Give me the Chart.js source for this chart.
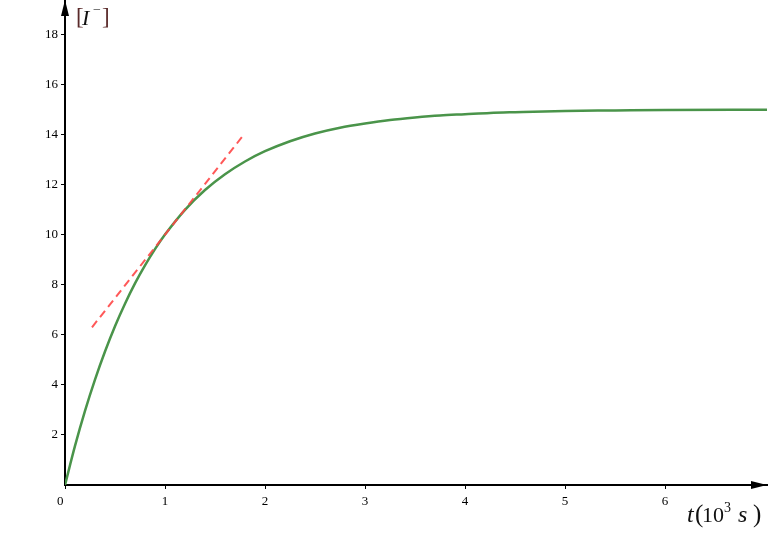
<!DOCTYPE html>
<html>
<head>
<meta charset="utf-8">
<script src="https://cdn.jsdelivr.net/npm/chart.js@4"></script>
<style>
  body { margin: 0; background: #fff; }
  canvas { display: block; }
</style>
</head>
<body>
<canvas id="chart" width="768" height="539"></canvas>
<script>
// concentration curve (t in 10^3 s)
var tValues = [0, 0.1, 0.2, 0.3, 0.4, 0.5, 0.6, 0.7, 0.8, 0.9, 1.0, 1.2, 1.4, 1.6, 1.8, 2.0, 2.25, 2.5, 2.75, 3.0, 3.25, 3.5, 3.75, 4.0, 4.25, 4.5, 5.0, 5.5, 6.0, 7.02];
var iValues = [0, 1.56, 2.96, 4.21, 5.33, 6.34, 7.24, 8.05, 8.77, 9.42, 10.0, 10.99, 11.78, 12.41, 12.92, 13.33, 13.73, 14.04, 14.27, 14.44, 14.58, 14.68, 14.76, 14.81, 14.86, 14.89, 14.94, 14.96, 14.98, 14.99];

// dashed tangent at t = 1
var tangentT = [0.27, 1.79];
var tangentI = [6.3, 14.0];

var xTicks = [0, 1, 2, 3, 4, 5, 6];
var yTicks = [2, 4, 6, 8, 10, 12, 14, 16, 18];

function toPoints(xs, ys) {
  return xs.map(function (x, i) { return { x: x, y: ys[i] }; });
}

var serif = '"Liberation Serif", "DejaVu Serif", serif';

var axisDecor = {
  id: 'axisDecor',
  afterDraw: function (chart) {
    var ctx = chart.ctx;
    var a = chart.chartArea;
    ctx.save();
    ctx.fillStyle = '#000';
    // y arrow
    ctx.beginPath();
    ctx.moveTo(a.left, 0);
    ctx.lineTo(a.left - 4, 16);
    ctx.lineTo(a.left + 4, 16);
    ctx.closePath();
    ctx.fill();
    // x arrow
    ctx.beginPath();
    ctx.moveTo(767, a.bottom);
    ctx.lineTo(751, a.bottom - 4);
    ctx.lineTo(751, a.bottom + 4);
    ctx.closePath();
    ctx.fill();

    // y label [I-]
    ctx.textBaseline = 'alphabetic';
    ctx.textAlign = 'left';
    ctx.fillStyle = '#5a2a2a';
    ctx.font = '23px ' + serif;
    ctx.fillText('[', 76, 24);
    ctx.fillStyle = '#111';
    ctx.font = 'italic 22px ' + serif;
    ctx.fillText('I', 82, 25);
    ctx.fillStyle = '#444';
    ctx.font = '14px ' + serif;
    ctx.fillText('\u2212', 93, 14);
    ctx.fillStyle = '#5a2a2a';
    ctx.font = '23px ' + serif;
    ctx.fillText(']', 102, 24);

    // x label t(10^3 s)
    ctx.fillStyle = '#111';
    var base = 522;
    var parts = [
      ['t', 'italic 24px ', 687, base],
      ['(', '25px ', 695, base],
      ['10', '22px ', 702, base],
      ['3', '14px ', 724, base - 10],
      ['s', 'italic 24px ', 738, base],
      [')', '25px ', 753, base]
    ];
    parts.forEach(function (p) {
      ctx.font = p[1] + serif;
      ctx.fillText(p[0], p[2], p[3]);
    });
    ctx.restore();
  }
};

function noPad(s) {
  s.paddingTop = 0;
  s.paddingBottom = 0;
  s.paddingLeft = 0;
  s.paddingRight = 0;
}

var ctx = document.getElementById('chart').getContext('2d');
var chart = new Chart(ctx, {
  type: 'line',
  data: {
    datasets: [{
      data: toPoints(tangentT, tangentI),
      borderColor: 'rgba(255, 70, 70, 0.9)',
      borderWidth: 2,
      borderDash: [8, 5],
      pointRadius: 0,
      fill: false
    }, {
      data: toPoints(tValues, iValues),
      borderColor: '#4a944a',
      borderWidth: 2.5,
      pointRadius: 0,
      cubicInterpolationMode: 'monotone',
      fill: false
    }]
  },
  plugins: [axisDecor],
  options: {
    responsive: false,
    animation: false,
    layout: { padding: { top: 0, right: 1, left: 0, bottom: 0 } },
    scales: {
      x: {
        type: 'linear',
        min: 0,
        max: 7.02,
        afterFit: function (s) { s.height = 54; noPad(s); },
        afterBuildTicks: function (s) {
          s.ticks = xTicks.map(function (v) { return { value: v }; });
        },
        border: { color: '#000', width: 2 },
        grid: { drawOnChartArea: false, drawTicks: true, tickLength: 4, color: '#000', tickColor: '#000' },
        ticks: {
          color: '#000',
          padding: 5,
          maxRotation: 0,
          autoSkip: false,
          font: { family: serif, size: 13 },
          callback: function (v) { return v === 0 ? '0   ' : String(v); }
        }
      },
      y: {
        min: 0,
        max: 19.37,
        afterFit: function (s) { s.width = 65; noPad(s); },
        afterBuildTicks: function (s) {
          s.ticks = yTicks.map(function (v) { return { value: v }; });
        },
        border: { color: '#000', width: 2 },
        grid: { drawOnChartArea: false, drawTicks: true, tickLength: 4, color: '#000', tickColor: '#000' },
        ticks: {
          color: '#000',
          padding: 3,
          autoSkip: false,
          font: { family: serif, size: 13 },
          callback: function (v) { return String(v); }
        }
      }
    },
    plugins: {
      legend: { display: false },
      tooltip: { enabled: false }
    }
  }
});
</script>
</body>
</html>
